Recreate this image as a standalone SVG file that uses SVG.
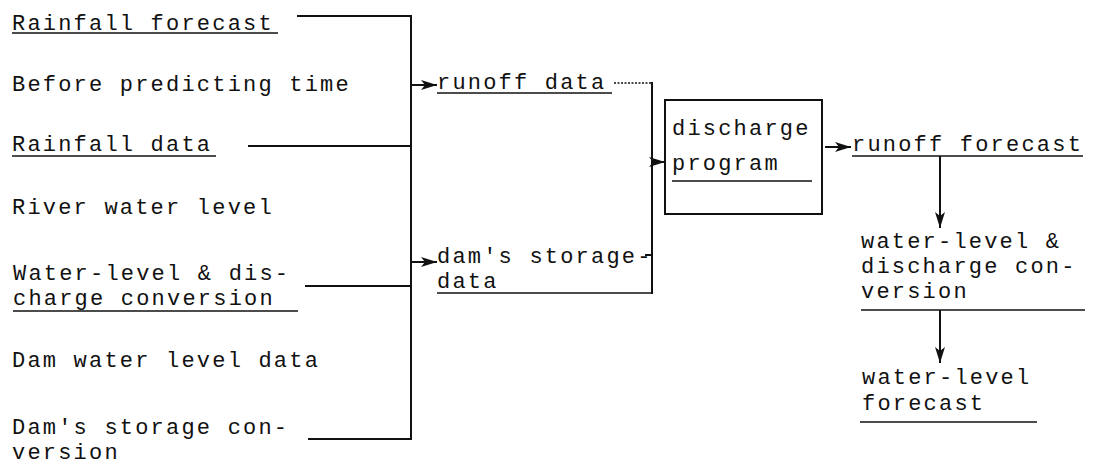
<svg xmlns="http://www.w3.org/2000/svg" width="1097" height="469" viewBox="0 0 1097 469">
<style>
text{font-family:"Liberation Mono","DejaVu Sans Mono",monospace;font-size:22px;letter-spacing:2.2px;fill:#111}
.ln{stroke:#111;stroke-width:2;fill:none}
.ul{stroke:#111;stroke-width:1.6;fill:none}
.dot{stroke:#111;stroke-width:1.4;stroke-dasharray:2 1.5;fill:none}
</style>
<defs>
<marker id="ah" viewBox="0 0 16 10" refX="16" refY="5" markerWidth="16" markerHeight="10" markerUnits="userSpaceOnUse" orient="auto">
<path d="M0,0 L16,5 L0,10 L4,5 Z" fill="#111"/>
</marker>
</defs>
<rect width="1097" height="469" fill="#fff"/>
<g id="in-rainfall-forecast"><text x="12" y="30">Rainfall forecast</text><line class="ul" x1="12" y1="33" x2="278" y2="33"/></g>
<g id="in-before-time"><text x="12" y="91">Before predicting time</text></g>
<g id="in-rainfall-data"><text x="12" y="151">Rainfall data</text><line class="ul" x1="12" y1="156" x2="216" y2="156"/></g>
<g id="in-river-level"><text x="12" y="214">River water level</text></g>
<g id="in-wl-conv"><text x="13" y="280">Water-level &amp; dis-</text><text x="13" y="305">charge conversion</text><line class="ul" x1="13" y1="311" x2="298" y2="311"/></g>
<g id="in-dam-level"><text x="12" y="367">Dam water level data</text></g>
<g id="in-dam-conv"><text x="12" y="434">Dam's storage con-</text><text x="12" y="459">version</text></g>
<g id="runoff-data"><text x="437" y="89">runoff data</text><line class="ul" x1="437" y1="93" x2="612" y2="93"/></g>
<g id="dam-storage-data"><text x="437" y="263">dam's storage-</text><text x="437" y="288">data</text></g>
<g id="discharge-program"><rect class="ln" x="665" y="100" width="157" height="114"/><text x="672" y="135">discharge</text><text x="672" y="170">program</text><line class="ul" x1="672" y1="181" x2="812" y2="181"/></g>
<g id="runoff-forecast"><text x="852" y="151">runoff forecast</text><line class="ul" x1="852" y1="156" x2="1083" y2="156"/></g>
<g id="wl-dis-conv"><text x="861" y="248">water-level &amp;</text><text x="861" y="273">discharge con-</text><text x="861" y="298">version</text><line class="ul" x1="861" y1="310" x2="1085" y2="310"/></g>
<g id="wl-forecast"><text x="862" y="384">water-level</text><text x="862" y="410">forecast</text><line class="ul" x1="860" y1="422" x2="1037" y2="422"/></g>
<g id="connectors">
<line class="ln" x1="297" y1="16" x2="411" y2="16"/>
<line class="ln" x1="248" y1="146" x2="411" y2="146"/>
<line class="ln" x1="305" y1="286" x2="411" y2="286"/>
<line class="ln" x1="308" y1="439" x2="411" y2="439"/>
<line class="ln" x1="411" y1="15" x2="411" y2="440"/>
<line class="ln" x1="411" y1="85" x2="437" y2="85" marker-end="url(#ah)"/>
<line class="ln" x1="411" y1="262" x2="437" y2="262" marker-end="url(#ah)"/>
<line class="dot" x1="614" y1="83" x2="652" y2="83"/>
<line class="ln" x1="645" y1="255" x2="652" y2="255"/>
<line class="ul" x1="437" y1="293" x2="652" y2="293"/>
<line class="ln" x1="652" y1="82" x2="652" y2="294"/>
<line class="ln" x1="652" y1="162" x2="665" y2="162" marker-end="url(#ah)"/>
<line class="ln" x1="825" y1="147" x2="851" y2="147" marker-end="url(#ah)"/>
<line class="ln" x1="940" y1="156" x2="940" y2="228" marker-end="url(#ah)"/>
<line class="ln" x1="940" y1="310" x2="940" y2="363" marker-end="url(#ah)"/>
</g>
</svg>
